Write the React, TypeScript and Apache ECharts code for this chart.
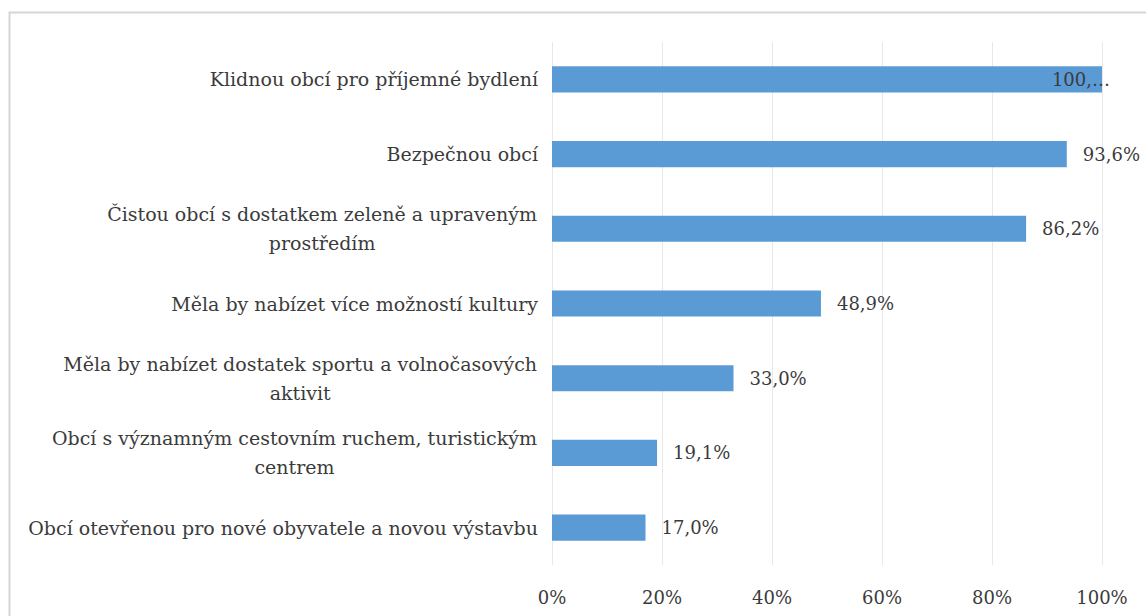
import React, { useEffect, useRef } from "react";
import * as echarts from "echarts";

const categories: string[] = [
  "Klidnou obcí pro příjemné bydlení",
  "Bezpečnou obcí",
  "Čistou obcí s dostatkem zeleně a upraveným\nprostředím",
  "Měla by nabízet více možností kultury",
  "Měla by nabízet dostatek sportu a volnočasových\naktivit",
  "Obcí s významným cestovním ruchem, turistickým\ncentrem",
  "Obcí otevřenou pro nové obyvatele a novou výstavbu",
];
const values: number[] = [100.0, 93.6, 86.2, 48.9, 33.0, 19.1, 17.0];
const tickValues: number[] = [0, 20, 40, 60, 80, 100];

const FONT = "DejaVu Serif";
const CAT_SIZE = 19;
const TEXT_COLOR = "#3b3b3b";

function measure(text: string, size: number): number {
  const c = document.createElement("canvas");
  const ctx = c.getContext("2d");
  if (!ctx) return text.length * size * 0.55;
  ctx.font = `${size}px ${FONT}`;
  return ctx.measureText(text).width;
}

export default function App() {
  const ref = useRef<HTMLDivElement>(null);
  useEffect(() => {
    if (!ref.current) return;
    const chart = echarts.init(ref.current, undefined, { renderer: "svg" });

    const rich: Record<string, any> = {};
    categories.forEach((c, i) => {
      const lines = c.split("\n");
      const w = Math.max(...lines.map((l) => measure(l, CAT_SIZE))) + 2;
      rich["r" + i] = {
        width: w,
        align: "center",
        fontFamily: FONT,
        fontSize: CAT_SIZE,
        color: TEXT_COLOR,
        lineHeight: 29,
      };
    });

    chart.setOption({
      animation: false,
      backgroundColor: "#ffffff",
      textStyle: { fontFamily: FONT },
      graphic: [
        {
          type: "rect",
          shape: { x: 9.5, y: 12.5, width: 1160, height: 640 },
          style: { fill: "none", stroke: "#d6d6d6", lineWidth: 2 },
          silent: true,
          z: 100,
        },
      ],
      grid: { left: 552, right: 44, top: 42, bottom: 51, containLabel: false },
      xAxis: {
        type: "value",
        min: 0,
        max: 100,
        interval: 20,
        axisLine: { show: false },
        axisTick: { show: false },
        splitLine: { show: true, lineStyle: { color: "#e8e8e8", width: 1 } },
        axisLabel: {
          margin: 23,
          fontFamily: FONT,
          fontSize: 18,
          color: TEXT_COLOR,
          formatter: (v: number) => (tickValues.includes(v) ? `${v}%` : ""),
        },
      },
      yAxis: {
        type: "category",
        inverse: true,
        data: categories,
        axisLine: { show: false },
        axisTick: { show: false },
        axisLabel: {
          margin: 14,
          fontFamily: FONT,
          fontSize: CAT_SIZE,
          color: TEXT_COLOR,
          lineHeight: 29,
          formatter: (val: string) => {
            const i = categories.indexOf(val);
            const lines = val.split("\n");
            if (lines.length === 1) return val;
            return lines.map((l) => `{r${i}|${l}}`).join("\n");
          },
          rich,
        },
      },
      series: [
        {
          type: "bar",
          data: values.map((v) =>
            v >= 100
              ? {
                  value: v,
                  label: {
                    position: "insideRight",
                    distance: 0,
                    offset: [8, 0],
                    formatter: () => "100,…",
                  },
                }
              : v
          ),
          barCategoryGap: "65%",
          itemStyle: { color: "#5b9bd5" },
          label: {
            show: true,
            position: "right",
            distance: 16,
            fontFamily: FONT,
            fontSize: 18,
            color: TEXT_COLOR,
            formatter: (p: any) => `${Number(p.value).toFixed(1).replace(".", ",")}%`,
          },
        },
      ],
    });
    return () => chart.dispose();
  }, []);
  return (
    <div
      ref={ref}
      style={{ position: "fixed", left: 0, top: 0, width: 1146, height: 616 }}
    />
  );
}
